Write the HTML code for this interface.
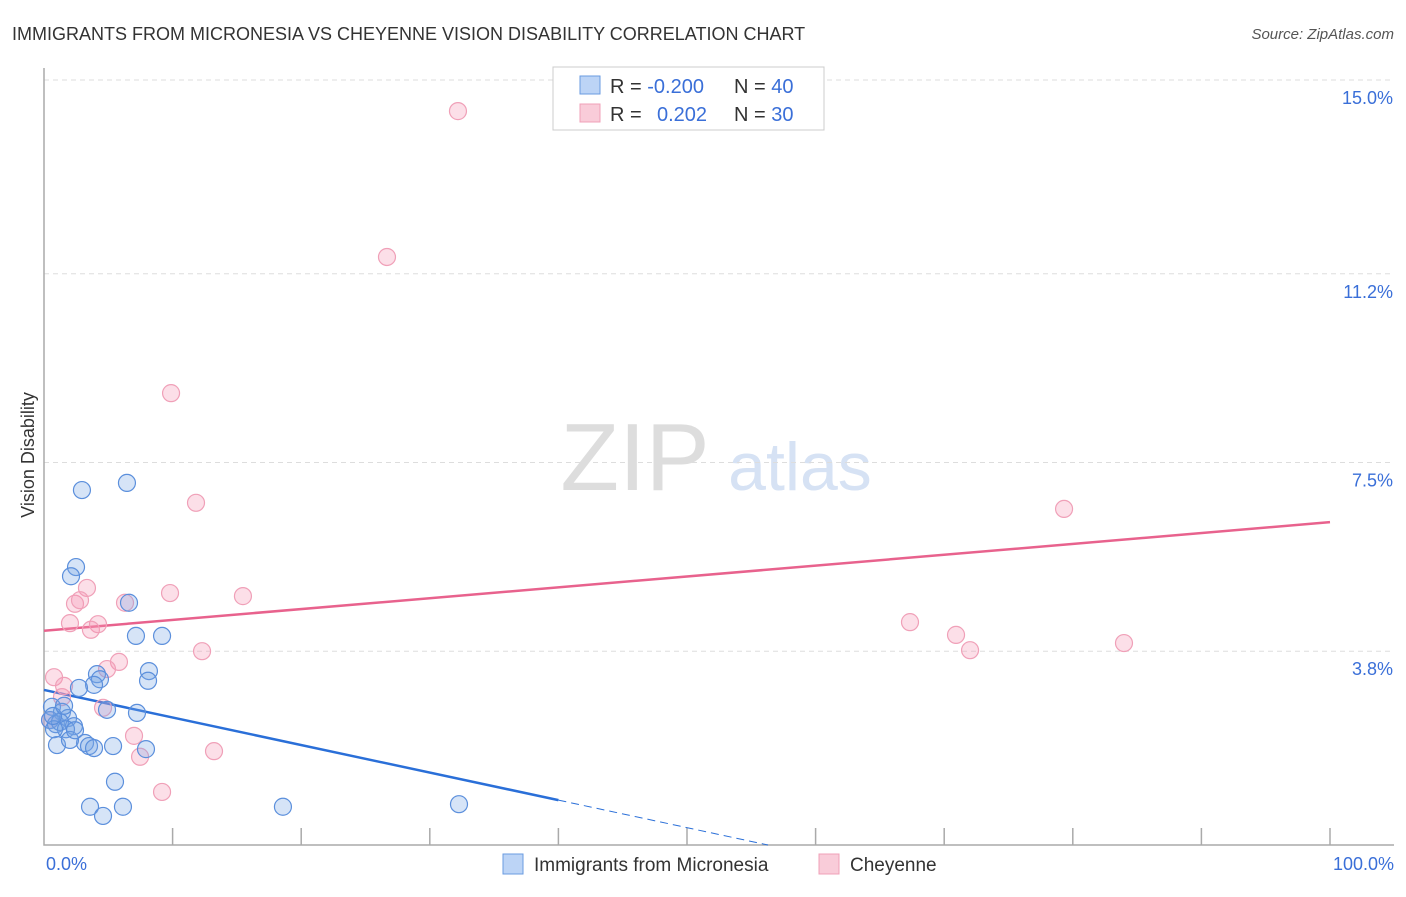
<!DOCTYPE html>
<html><head><meta charset="utf-8"><style>
body{margin:0;background:#fff;font-family:"Liberation Sans",sans-serif}
svg text{font-family:"Liberation Sans",sans-serif}
</style></head><body>
<svg width="1406" height="892" xmlns="http://www.w3.org/2000/svg">
<text x="12" y="40" font-size="18" fill="#333">IMMIGRANTS FROM MICRONESIA VS CHEYENNE VISION DISABILITY CORRELATION CHART</text>
<text x="1394" y="39" font-size="15" fill="#555" font-style="italic" text-anchor="end">Source: ZipAtlas.com</text>
<text x="635" y="490" font-size="96" fill="#ddd" font-family="Liberation Serif,serif" text-anchor="middle">ZIP</text>
<text x="800" y="490" font-size="68" fill="#d6e2f4" text-anchor="middle">atlas</text>
<g id="grid"></g><g id="axes"></g><g id="trends"></g><g id="pts"></g>
<text transform="translate(34,455) rotate(-90)" font-size="18" fill="#333" text-anchor="middle">Vision Disability</text>
<text x="46" y="870" font-size="18" fill="#3a6fd8">0.0%</text>
<text x="1394" y="870" font-size="18" fill="#3a6fd8" text-anchor="end">100.0%</text>
<g>
<rect x="553" y="67" width="271" height="63" fill="#fff" stroke="#ccc"/>
<rect x="580" y="76" width="20" height="18" fill="#bcd4f6" stroke="#6a9be0"/>
<rect x="580" y="104" width="20" height="18" fill="#f9ccd9" stroke="#f0a0b8"/>
<text x="610" y="93" font-size="20" fill="#333">R = <tspan fill="#3a6fd8">-0.200</tspan>  <tspan x="734">N = </tspan><tspan fill="#3a6fd8">40</tspan></text>
<text x="610" y="121" font-size="20" fill="#333">R = <tspan x="657" fill="#3a6fd8">0.202</tspan><tspan x="734">N = </tspan><tspan fill="#3a6fd8">30</tspan></text>
</g>
<g><rect x="503" y="854" width="20" height="20" fill="#bcd4f6" stroke="#6a9be0"/><text x="534" y="871" font-size="19" fill="#333">Immigrants from Micronesia</text></g>
<g><rect x="819" y="854" width="20" height="20" fill="#f9ccd9" stroke="#f0a0b8"/><text x="850" y="871" font-size="19" fill="#333">Cheyenne</text></g>
</svg>
<script>
const blueX=[2.95,6.45,2.49,2.10,6.61,7.15,9.18,4.12,8.16,4.35,3.89,8.09,2.72,4.90,7.23,0.62,1.40,0.47,0.93,1.87,1.24,2.33,1.71,0.78,3.19,3.50,3.89,5.37,7.93,1.01,2.02,5.52,3.58,6.14,4.59,18.58,32.27,0.70,1.56,2.41];
const blueY=[6.96,7.10,5.45,5.27,4.75,4.10,4.10,3.35,3.41,3.25,3.14,3.22,3.08,2.65,2.59,2.71,2.61,2.45,2.37,2.49,2.41,2.33,2.27,2.27,2.00,1.94,1.90,1.94,1.88,1.96,2.06,1.24,0.75,0.75,0.57,0.75,0.80,2.53,2.73,2.25];
const pinkX=[32.19,26.67,9.88,11.82,79.32,3.34,2.41,2.80,6.30,9.80,15.47,2.02,4.20,3.65,12.29,67.34,70.92,72.01,83.98,0.78,1.56,5.83,4.90,1.40,4.59,7.00,13.22,7.47,9.18,0.47];
const pinkY=[14.39,11.53,8.86,6.71,6.59,5.04,4.73,4.80,4.75,4.94,4.88,4.35,4.33,4.22,3.80,4.37,4.12,3.82,3.96,3.29,3.12,3.59,3.45,2.90,2.69,2.14,1.84,1.73,1.04,2.45];
const yTicks=[15.0,11.2,7.5,3.8];
const yTickLabels=["15.0%","11.2%","7.5%","3.8%"];
const blueTrend=[3.04,-0.054];
const pinkTrend=[4.20,0.0213];
const NS="http://www.w3.org/2000/svg";
const X=v=>44+v*12.86, Y=v=>845-v*51.0;
function mk(t,a,p){const e=document.createElementNS(NS,t);for(const k in a)e.setAttribute(k,a[k]);document.getElementById(p).appendChild(e);return e;}
yTicks.forEach((t,i)=>{
 const g=mk('line',{x1:44,x2:1394,y1:Y(t),y2:Y(t),stroke:'#ddd','stroke-dasharray':'5,4'},'grid');
 
 
 const l=mk('text',{x:1393,y:Y(t)+24,'font-size':18,fill:'#3a6fd8','text-anchor':'end'},'grid');
 l.textContent=yTickLabels[i];
 
 
});
const ax=mk('path',{d:'M44 68V845H1394',fill:'none',stroke:'#aaa','stroke-width':1.5},'axes');


for(let i=1;i<=10;i++){const t=mk('line',{x1:X(i*10),x2:X(i*10),y1:845,y2:828,stroke:'#aaa','stroke-width':1.5},'axes');
 
 }
const bt=mk('line',{x1:X(0),y1:Y(blueTrend[0]),x2:X(40),y2:Y(blueTrend[0]+40*blueTrend[1]),stroke:'#2a6fd8','stroke-width':2.5},'trends');


const bd=mk('line',{x1:X(40),y1:Y(blueTrend[0]+40*blueTrend[1]),x2:X(56.3),y2:Y(blueTrend[0]+56.3*blueTrend[1]),stroke:'#2a6fd8','stroke-width':1,'stroke-dasharray':'8,5'},'trends');


const pt=mk('line',{x1:X(0),y1:Y(pinkTrend[0]),x2:X(100),y2:Y(pinkTrend[0]+100*pinkTrend[1]),stroke:'#e8628d','stroke-width':2.5},'trends');


pinkX.forEach((x,i)=>{const c=mk('circle',{cx:X(x),cy:Y(pinkY[i]),r:8.5,fill:'rgba(244,150,180,0.3)',stroke:'#f0a0b8','stroke-width':1.2},'pts');
 
 });
blueX.forEach((x,i)=>{const c=mk('circle',{cx:X(x),cy:Y(blueY[i]),r:8.5,fill:'rgba(120,165,230,0.3)',stroke:'#5b8fdc','stroke-width':1.2},'pts');
 
 });
</script>
</body></html>
